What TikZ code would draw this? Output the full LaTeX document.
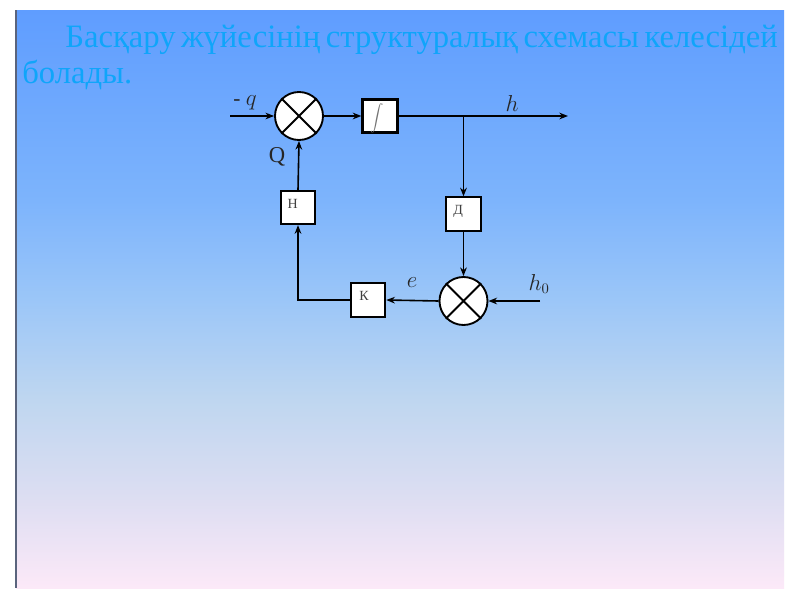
\documentclass[tikz,border=0pt]{standalone}
\usepackage{fontspec}
\setmainfont{Liberation Serif}
\usetikzlibrary{arrows.meta}
\definecolor{slidetop}{RGB}{95,157,255}
\definecolor{slideupper}{RGB}{125,180,252}
\definecolor{slidemid}{RGB}{155,198,248}
\definecolor{slidelow}{RGB}{190,214,240}
\definecolor{slidelower}{RGB}{222,222,242}
\definecolor{slidebot}{RGB}{252,233,248}
\definecolor{titleblue}{RGB}{15,165,250}
\definecolor{slideedge}{RGB}{90,100,125}
\pgfdeclareverticalshading{slidefade}{100bp}{color(0bp)=(slidebot); color(25bp)=(slidebot); color(32.5bp)=(slidelower); color(41.5bp)=(slidelow); color(50bp)=(slidemid); color(58.5bp)=(slideupper); color(75bp)=(slidetop); color(100bp)=(slidetop)}
\begin{document}
\begin{tikzpicture}[x=0.75pt, y=-0.75pt]
            \tikzstyle{block} = [draw, fill=white, line width=1.4pt, minimum width=26pt, minimum height=25pt, inner sep=0pt]
            \tikzstyle{summer} = [draw, circle, fill=white, line width=1.4pt, minimum size=36pt, inner sep=0pt]
            \tikzstyle{signal} = [line width=1.2pt, -{Stealth[length=6.5pt, width=5pt]}]
            \tikzstyle{blocklabel} = [font=\fontsize{10.5}{12}\selectfont, text=black!75]
            \tikzstyle{siglabel} = [font=\fontsize{16}{18}\selectfont, text=black!85]
            \useasboundingbox (0, 0) rectangle (800, 600);
            \fill[white] (0, 0) rectangle (800, 600);
            % slide background
            \shade[shading=slidefade] (16, 10) rectangle (784, 588);
            \draw[slideedge, line width=1.5pt] (16, 10) -- (16, 588);
            \node[anchor=base west, inner sep=0pt, text=titleblue, font=\fontsize{24.5}{28}\selectfont] (title1) at (65, 47) {\makebox[532pt][s]{Басқару жүйесінің структуралық схемасы келесідей}};
            \node[anchor=base west, inner sep=0pt, text=titleblue, font=\fontsize{24.5}{28}\selectfont] (title2) at (22, 83) {болады.};
            % blocks
            \node[summer] (sumA) at (299, 116) {};
            \draw[line width=1.4pt] (sumA.45) -- (sumA.225) (sumA.135) -- (sumA.315);
            \node[block, line width=1.9pt] (integ) at (380, 116) {};
            \node[text=black!55] (intsign) at (377, 118) {\fontsize{11}{12}\selectfont$\displaystyle\int$};
            \node[block, label={[blocklabel, xshift=-4pt, yshift=2pt]center:Д}] (sensor) at (463.5, 214) {};
            \node[summer] (sumB) at (463.5, 301) {};
            \draw[line width=1.4pt] (sumB.45) -- (sumB.225) (sumB.135) -- (sumB.315);
            \node[block, label={[blocklabel, xshift=-3pt, yshift=3pt]center:К}] (regK) at (368, 300) {};
            \node[block, label={[blocklabel, xshift=-4pt, yshift=3pt]center:Н}] (exec) at (298, 207.5) {};
            % connectors
            \coordinate (qin) at (230, 116);
            \coordinate (hout) at (568, 116);
            \coordinate (branch) at (463.5, 116);
            \coordinate (hzero) at (540, 301);
            \draw[signal] (qin) -- (sumA.west);
            \draw[signal] (sumA.east) -- (integ.west);
            \draw[signal] (integ.east) -- (hout);
            \draw[signal] (branch) -- (sensor.north);
            \draw[signal] (sensor.south) -- (sumB.north);
            \draw[signal] (hzero) -- (sumB.east);
            \draw[signal] (sumB.west) -- (regK.east);
            \draw[signal] (regK.west) -| (exec.south);
            \draw[signal] (exec.north) -- (sumA.south);
            % labels
            \node[siglabel] (lq) at (245, 103) {- $q$};
            \node[siglabel] (lh) at (512, 103) {$h$};
            \node[siglabel] (le) at (412, 283) {$e$};
            \node[siglabel] (lhzero) at (539, 284) {$h_0$};
            \node[font=\fontsize{17}{19}\selectfont, text=black!85] (lQ) at (277, 157) {Q};
\end{tikzpicture}
\end{document}
